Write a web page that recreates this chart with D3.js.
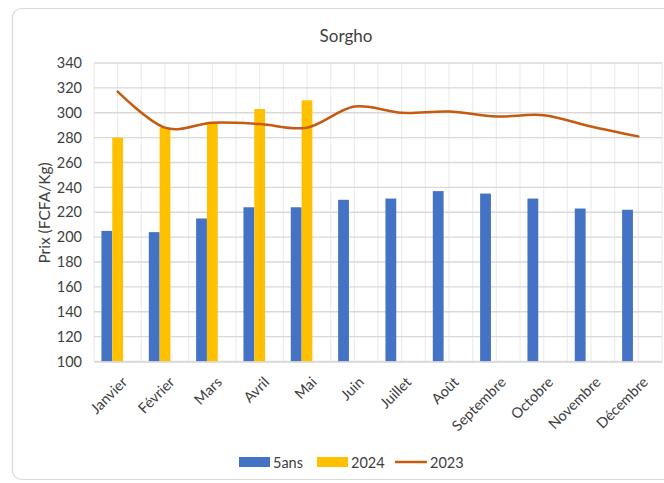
<!DOCTYPE html>
<html>
<head>
<meta charset="utf-8">
<script src="https://cdn.jsdelivr.net/npm/d3@7"></script>
<style>
  body { margin: 0; background: #fff; }
  svg text { font-family: Lato, "Open Sans", sans-serif; fill: #404040; }
</style>
</head>
<body>
<div id="chart"></div>
<script>
var months = ["Janvier", "Février", "Mars", "Avril", "Mai", "Juin", "Juillet", "Août",
  "Septembre", "Octobre", "Novembre", "Décembre"];
var cinqAns = [205, 204, 215, 224, 224, 230, 231, 237, 235, 231, 223, 222];
var annee2024 = [280, 288, 292, 303, 310, null, null, null, null, null, null, null];
var annee2023 = [317, 288, 292, 291, 288, 305, 300, 301, 297, 298, 289, 281];
var yTicks = [100, 120, 140, 160, 180, 200, 220, 240, 260, 280, 300, 320, 340];

var svgWidth = 664;
var svgHeight = 483;
var plot = { left: 94, right: 662, top: 63, bottom: 361.5 };

var svg = d3.select("#chart")
  .append("svg")
  .attr("width", svgWidth)
  .attr("height", svgHeight);

// chart frame
svg.append("rect")
  .attr("x", 12.5).attr("y", 8.5)
  .attr("width", 670).attr("height", 471)
  .attr("rx", 9)
  .attr("fill", "#fff")
  .attr("stroke", "#d9d9d9")
  .attr("stroke-width", 1.2);

// scales
var x = d3.scaleBand().domain(months).range([plot.left, plot.right]);
var x1 = d3.scaleBand().domain(["5ans", "2024", "vide"])
  .range([0, x.bandwidth()]).paddingOuter(0.69);
var y = d3.scaleLinear().domain([100, 340]).range([plot.bottom, plot.top]);

// vertical gridlines (category borders and centres)
var vLines = [];
months.forEach(function(m) {
  vLines.push(x(m));
  vLines.push(x(m) + x.bandwidth() / 2);
});
vLines.push(plot.right);
svg.append("g").selectAll("line")
  .data(vLines)
  .enter().append("line")
  .attr("x1", d => d).attr("x2", d => d)
  .attr("y1", plot.top).attr("y2", plot.bottom)
  .attr("stroke", "#ececec")
  .attr("stroke-width", 1.2);

// horizontal gridlines
svg.append("g").selectAll("line")
  .data(yTicks)
  .enter().append("line")
  .attr("x1", plot.left).attr("x2", plot.right)
  .attr("y1", d => y(d)).attr("y2", d => y(d))
  .attr("stroke", "#d9d9d9")
  .attr("stroke-width", 1.3);

// y axis labels
var leftAxis = d3.axisLeft(y).tickValues(yTicks).tickSize(0).tickPadding(12);
var yAxis = svg.append("g")
  .attr("transform", `translate(${plot.left}, 0)`)
  .call(leftAxis);
yAxis.select(".domain").remove();
yAxis.selectAll("text")
  .style("font-size", "14.5px")
  .attr("fill", "#404040")
  .attr("font-family", "Lato");

// bars
var barsData = [];
months.forEach(function(m, i) {
  barsData.push({ month: m, key: "5ans", value: cinqAns[i], color: "#4472C4" });
  if (annee2024[i] != null)
    barsData.push({ month: m, key: "2024", value: annee2024[i], color: "#FFC000" });
});
svg.append("g").selectAll("rect")
  .data(barsData)
  .enter().append("rect")
  .attr("x", d => x(d.month) + x1(d.key))
  .attr("width", x1.bandwidth())
  .attr("y", d => y(d.value))
  .attr("height", d => y(100) - y(d.value))
  .attr("fill", d => d.color);

// x axis
var bottomAxis = d3.axisBottom(x).tickSize(0).tickPadding(0);
var xAxis = svg.append("g")
  .attr("transform", `translate(0, ${plot.bottom})`)
  .call(bottomAxis);
xAxis.select(".domain")
  .attr("stroke", "#d9d9d9")
  .attr("stroke-width", 1.3);
xAxis.selectAll("text")
  .style("font-size", "14.5px")
  .attr("fill", "#404040")
  .attr("font-family", "Lato")
  .attr("text-anchor", "end")
  .attr("dy", "0.35em")
  .attr("transform", "translate(7, 18) rotate(-45)");

// 2023 line, smoothed like Excel
var line = d3.line()
  .x((d, i) => x(months[i]) + x.bandwidth() / 2)
  .y(d => y(d))
  .curve(d3.curveCardinal.tension(0));
svg.append("path")
  .datum(annee2023)
  .attr("d", line)
  .attr("fill", "none")
  .attr("stroke", "#C55A11")
  .attr("stroke-width", 2.5)
  .attr("stroke-linecap", "round");

// title
svg.append("text")
  .attr("x", 346)
  .attr("y", 42)
  .attr("text-anchor", "middle")
  .style("font-size", "17px")
  .text("Sorgho");

// y axis title
svg.append("text")
  .attr("transform", "translate(50, 213) rotate(-90)")
  .attr("text-anchor", "middle")
  .style("font-size", "15.5px")
  .text("Prix (FCFA/Kg)");

// legend
var legend = svg.append("g");
legend.append("rect").attr("x", 239).attr("y", 457).attr("width", 31).attr("height", 10).attr("fill", "#4472C4");
legend.append("text").attr("x", 273).attr("y", 467.5).style("font-size", "14.5px").text("5ans");
legend.append("rect").attr("x", 317).attr("y", 457).attr("width", 31).attr("height", 10).attr("fill", "#FFC000");
legend.append("text").attr("x", 351).attr("y", 467.5).style("font-size", "14.5px").text("2024");
legend.append("line").attr("x1", 395).attr("x2", 427).attr("y1", 462).attr("y2", 462)
  .attr("stroke", "#C55A11").attr("stroke-width", 2.5);
legend.append("text").attr("x", 430).attr("y", 467.5).style("font-size", "14.5px").text("2023");
</script>
</body>
</html>
